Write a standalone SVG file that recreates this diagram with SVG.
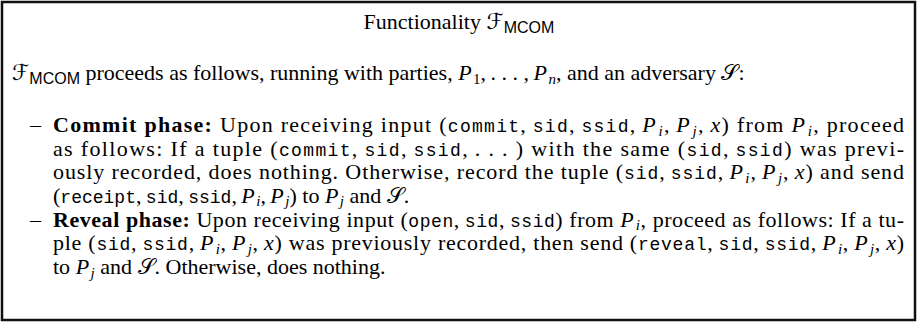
<svg xmlns="http://www.w3.org/2000/svg" width="917" height="322" viewBox="0 0 917 322">
<style>
text { font-family: "Liberation Serif", "Times New Roman", serif; font-size: 22px; fill: #000; }
.tt { font-family: "Liberation Mono", "Courier New", monospace; font-size: 18px; }
.it { font-style: italic; }
.bf { font-weight: bold; }
.sf { font-family: "Liberation Sans", Arial, sans-serif; font-size: 16px; }
.sb { font-size: 15px; }
.cal { font-family: "DejaVu Serif", "DejaVu Sans", serif; }
.frame { fill: #fff; stroke: #111; stroke-width: 2.5; }
</style>
<rect class="frame" x="2" y="2" width="913" height="318"/>
<g id="title">
<text x="459" y="29" text-anchor="middle">Functionality <tspan class="cal">ℱ</tspan><tspan class="sf" dy="4">MCOM</tspan></text>
</g>
<g id="intro">
<text x="12" y="80"><tspan class="cal">ℱ</tspan><tspan class="sf" dy="4">MCOM</tspan><tspan dy="-4"> proceeds as follows, running with parties, </tspan><tspan class="it">P</tspan><tspan class="sb" dx="1.5" dy="3.5">1</tspan><tspan dy="-3.5">,&#8201;. . . ,&#8201;</tspan><tspan class="it">P</tspan><tspan class="it sb" dx="1.5" dy="3.5">n</tspan><tspan dy="-3.5">, and an adversary </tspan><tspan class="cal">𝒮</tspan>:</text>
</g>
<g id="commit">
<text x="30" y="132">–</text>
<text x="53" y="132" textLength="851" lengthAdjust="spacing"><tspan class="bf">Commit phase:</tspan> Upon receiving input (<tspan class="tt">commit</tspan>,&#8201;<tspan class="tt">sid</tspan>,&#8201;<tspan class="tt">ssid</tspan>,&#8201;<tspan class="it">P</tspan><tspan class="it sb" dx="1.5" dy="3.5">i</tspan><tspan dy="-3.5">,&#8201;</tspan><tspan class="it">P</tspan><tspan class="it sb" dx="1.5" dy="3.5">j</tspan><tspan dy="-3.5">,&#8201;</tspan><tspan class="it">x</tspan>) from <tspan class="it">P</tspan><tspan class="it sb" dx="1.5" dy="3.5">i</tspan><tspan dy="-3.5">, proceed</tspan></text>
<text x="53" y="155.5" textLength="851" lengthAdjust="spacing">as follows: If a tuple (<tspan class="tt">commit</tspan>,&#8201;<tspan class="tt">sid</tspan>,&#8201;<tspan class="tt">ssid</tspan>,&#8201;. . . ) with the same (<tspan class="tt">sid</tspan>,&#8201;<tspan class="tt">ssid</tspan>) was previ-</text>
<text x="53" y="179" textLength="851" lengthAdjust="spacing">ously recorded, does nothing. Otherwise, record the tuple (<tspan class="tt">sid</tspan>,&#8201;<tspan class="tt">ssid</tspan>,&#8201;<tspan class="it">P</tspan><tspan class="it sb" dx="1.5" dy="3.5">i</tspan><tspan dy="-3.5">,&#8201;</tspan><tspan class="it">P</tspan><tspan class="it sb" dx="1.5" dy="3.5">j</tspan><tspan dy="-3.5">,&#8201;</tspan><tspan class="it">x</tspan>) and send</text>
<text x="53" y="202.5">(<tspan class="tt">receipt</tspan>,&#8201;<tspan class="tt">sid</tspan>,&#8201;<tspan class="tt">ssid</tspan>,&#8201;<tspan class="it">P</tspan><tspan class="it sb" dx="1.5" dy="3.5">i</tspan><tspan dy="-3.5">,&#8201;</tspan><tspan class="it">P</tspan><tspan class="it sb" dx="1.5" dy="3.5">j</tspan><tspan dy="-3.5">) to </tspan><tspan class="it">P</tspan><tspan class="it sb" dx="1.5" dy="3.5">j</tspan><tspan dy="-3.5"> and </tspan><tspan class="cal">𝒮</tspan>.</text>
</g>
<g id="reveal">
<text x="30" y="226.5">–</text>
<text x="53" y="226.5" textLength="851" lengthAdjust="spacing"><tspan class="bf">Reveal phase:</tspan> Upon receiving input (<tspan class="tt">open</tspan>,&#8201;<tspan class="tt">sid</tspan>,&#8201;<tspan class="tt">ssid</tspan>) from <tspan class="it">P</tspan><tspan class="it sb" dx="1.5" dy="3.5">i</tspan><tspan dy="-3.5">, proceed as follows: If a tu-</tspan></text>
<text x="53" y="250" textLength="851" lengthAdjust="spacing">ple (<tspan class="tt">sid</tspan>,&#8201;<tspan class="tt">ssid</tspan>,&#8201;<tspan class="it">P</tspan><tspan class="it sb" dx="1.5" dy="3.5">i</tspan><tspan dy="-3.5">,&#8201;</tspan><tspan class="it">P</tspan><tspan class="it sb" dx="1.5" dy="3.5">j</tspan><tspan dy="-3.5">,&#8201;</tspan><tspan class="it">x</tspan>) was previously recorded, then send (<tspan class="tt">reveal</tspan>,&#8201;<tspan class="tt">sid</tspan>,&#8201;<tspan class="tt">ssid</tspan>,&#8201;<tspan class="it">P</tspan><tspan class="it sb" dx="1.5" dy="3.5">i</tspan><tspan dy="-3.5">,&#8201;</tspan><tspan class="it">P</tspan><tspan class="it sb" dx="1.5" dy="3.5">j</tspan><tspan dy="-3.5">,&#8201;</tspan><tspan class="it">x</tspan>)</text>
<text x="53" y="274">to <tspan class="it">P</tspan><tspan class="it sb" dx="1.5" dy="3.5">j</tspan><tspan dy="-3.5"> and </tspan><tspan class="cal">𝒮</tspan>. Otherwise, does nothing.</text>
</g>
</svg>
